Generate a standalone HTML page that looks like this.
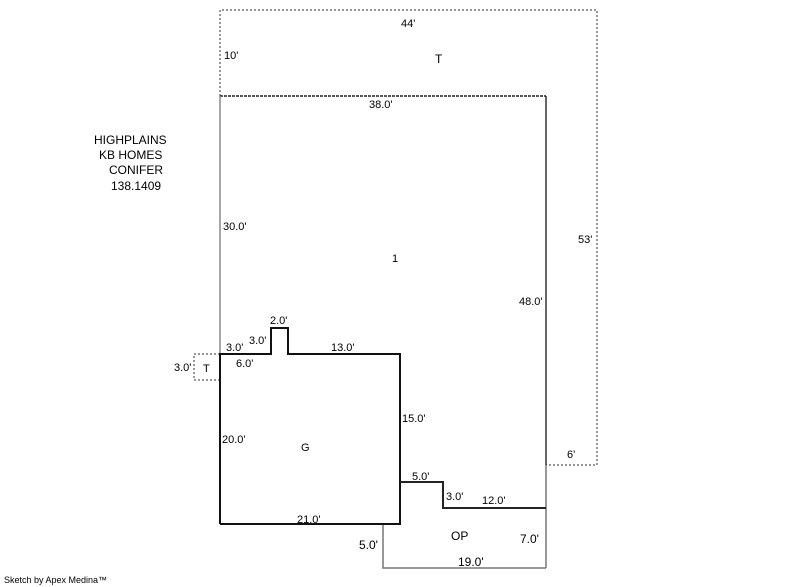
<!DOCTYPE html>
<html><head><style>
body{margin:0;background:#fff;}
svg{display:block;}
text{font-family:"Liberation Sans",Arial,sans-serif;font-size:11px;fill:#000;}
</style></head><body>
<svg width="800" height="587" viewBox="0 0 800 587">
<g fill="none" stroke-linecap="butt">
<polyline points="220,96 220,10 597,10 597,465 546,465" stroke="#777" stroke-width="1.5" stroke-dasharray="2,2"/>
<line x1="220" y1="96" x2="546" y2="96" stroke="#222" stroke-width="1.5" stroke-dasharray="3,1"/>
<line x1="546" y1="96" x2="546" y2="465" stroke="#333" stroke-width="1.5"/>
<line x1="546" y1="465" x2="546" y2="568" stroke="#777" stroke-width="1.5"/>
<line x1="220" y1="96" x2="220" y2="354" stroke="#888" stroke-width="1.5"/>
<polyline points="220,354 194,354 194,380 220,380" stroke="#777" stroke-width="1.5" stroke-dasharray="2,2"/>
<polyline points="383,524 383,568 546,568" stroke="#777" stroke-width="1.5"/>
<polyline points="220,524 220,354 271,354 271,328 288,328 288,354 400,354 400,524 220,524" stroke="#111" stroke-width="2"/>
<polyline points="400,482 443,482 443,508 546,508" stroke="#222" stroke-width="2"/>
</g>
<text x="401" y="27">44'</text>
<text x="224" y="59">10'</text>
<text x="435" y="63" style="font-size:12px">T</text>
<text x="369" y="108">38.0'</text>
<text x="94" y="144" style="font-size:12px">HIGHPLAINS</text>
<text x="99" y="159" style="font-size:12px">KB HOMES</text>
<text x="109" y="174" style="font-size:12px">CONIFER</text>
<text x="111" y="190" style="font-size:12px">138.1409</text>
<text x="223" y="230">30.0'</text>
<text x="578" y="243">53'</text>
<text x="392" y="262">1</text>
<text x="519" y="305">48.0'</text>
<text x="270" y="324">2.0'</text>
<text x="249" y="344">3.0'</text>
<text x="226" y="351">3.0'</text>
<text x="331" y="351">13.0'</text>
<text x="236" y="367">6.0'</text>
<text x="174" y="371">3.0'</text>
<text x="203" y="372">T</text>
<text x="402" y="422">15.0'</text>
<text x="222" y="443">20.0'</text>
<text x="301" y="451">G</text>
<text x="567" y="458">6'</text>
<text x="412" y="480">5.0'</text>
<text x="446" y="500">3.0'</text>
<text x="482" y="504">12.0'</text>
<text x="297" y="523">21.0'</text>
<text x="451" y="540" style="font-size:12px">OP</text>
<text x="359" y="549" style="font-size:12px">5.0'</text>
<text x="520" y="543" style="font-size:12px">7.0'</text>
<text x="458" y="566" style="font-size:12px">19.0'</text>
<text x="4" y="583" style="font-size:9px">Sketch by Apex Medina™</text>
</svg>
</body></html>
